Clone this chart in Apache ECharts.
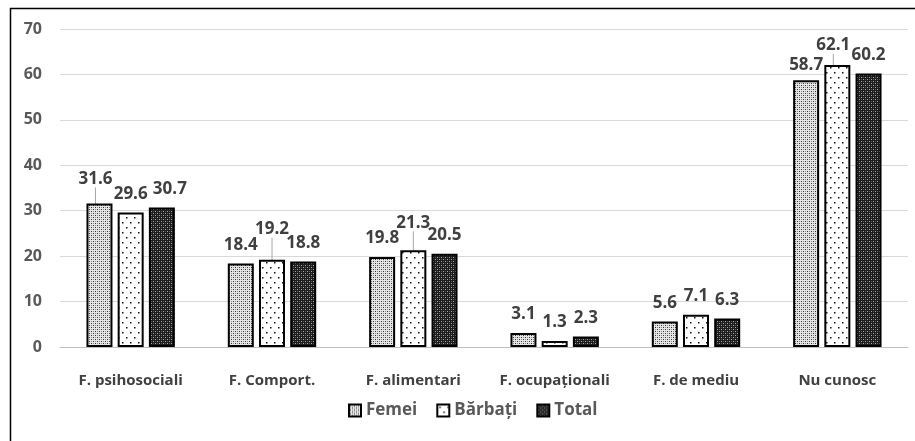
<!DOCTYPE html>
<html>
<head>
<meta charset="utf-8">
<script src="https://cdn.jsdelivr.net/npm/echarts@6/dist/echarts.min.js"></script>
<style>
html,body{margin:0;padding:0;background:#fff;}
#chart{width:915px;height:441px;}
</style>
</head>
<body>
<div id="chart"></div>
<script>
var categories = ['F. psihosociali', 'F. Comport.', 'F. alimentari', 'F. ocupaționali', 'F. de mediu', 'Nu cunosc'];
var femei = [31.6, 18.4, 19.8, 3.1, 5.6, 58.7];
var barbati = [29.6, 19.2, 21.3, 1.3, 7.1, 62.1];
var total = [30.7, 18.8, 20.5, 2.3, 6.3, 60.2];
var seriesNames = ['Femei', 'Bărbați', 'Total'];
var yTicks = [0, 10, 20, 30, 40, 50, 60, 70];

function makePattern(w, h, bg, dots) {
  var c = document.createElement('canvas');
  c.width = w; c.height = h;
  var ctx = c.getContext('2d');
  ctx.fillStyle = bg; ctx.fillRect(0, 0, w, h);
  dots.forEach(function (d) {
    ctx.fillStyle = d[2];
    ctx.fillRect(d[0], d[1], d[3] || 1, d[3] || 1);
  });
  return { image: c, repeat: 'repeat' };
}
var patFemei = makePattern(4, 4, '#e6e6e6', [[1,1,'#333'],[3,3,'#333'],[1,3,'#8a8a8a'],[3,1,'#8a8a8a']]);
var patBarbati = makePattern(8, 10, '#ffffff', [[2,2,'#111',1.5],[6,7,'#111',1.5]]);
var patTotal = makePattern(4, 4, '#1c1c1c', [[1,1,'#a8a8a8'],[3,3,'#a8a8a8'],[1,3,'#5a5a5a'],[3,1,'#5a5a5a']]);
var patterns = [patFemei, patBarbati, patTotal];
var datas = [femei, barbati, total];

// label nudges (Excel-moved labels), with leader lines
var labelShift = { '0-0': [-4, -6], '2-0': [8, 0], '1-1': [0, -12], '1-2': [0, -9], '1-5': [-4, -1], '0-5': [0, 3] };
var withLine = { '0-0': 1, '1-1': 1, '1-2': 1, '1-5': 1 };

var chart = echarts.init(document.getElementById('chart'), null, { renderer: 'canvas' });
var font = 'Open Sans';
var series = seriesNames.map(function (name, i) {
  return {
    name: name,
    type: 'bar',
    data: datas[i].map(function (v, j) {
      return { value: v, labelLine: { show: !!withLine[i + '-' + j] } };
    }),
    barWidth: 26,
    barGap: '20%',
    itemStyle: { color: patterns[i], borderColor: '#000', borderWidth: 2 },
    label: {
      show: true, position: 'top', distance: 10,
      fontFamily: font, fontWeight: 'bold', fontSize: 17, color: '#404040'
    },
    labelLine: { show: false, lineStyle: { color: '#a6a6a6', width: 1 } },
    labelLayout: function (p) {
      var s = labelShift[p.seriesIndex + '-' + p.dataIndex];
      if (s) return { dx: s[0], dy: s[1] };
      return {};
    }
  };
});

chart.setOption({
  animation: false,
  backgroundColor: '#fff',
  graphic: [{
    type: 'rect', left: 8, top: 6, shape: { width: 1000, height: 1000 },
    style: { fill: 'none', stroke: '#000', lineWidth: 1.5 }, silent: true, z: -1
  }],
  grid: { left: 60, right: 7, top: 29, bottom: 94 },
  legend: {
    data: seriesNames,
    bottom: 17, left: 343,
    icon: 'rect', itemWidth: 12, itemHeight: 12, itemGap: 19,
    textStyle: { fontFamily: font, fontWeight: 'bold', fontSize: 17, color: '#595959' }
  },
  xAxis: {
    type: 'category', data: categories,
    axisTick: { show: false },
    axisLine: { lineStyle: { color: '#bfbfbf', width: 1 } },
    axisLabel: { margin: 26, fontFamily: font, fontWeight: 'bold', fontSize: 15, color: '#404040', interval: 0 }
  },
  yAxis: {
    type: 'value', min: 0, max: 70, interval: 10,
    axisLine: { show: false }, axisTick: { show: false },
    splitLine: { lineStyle: { color: '#d9d9d9', width: 1 } },
    axisLabel: { margin: 18, fontFamily: font, fontWeight: 'bold', fontSize: 16, color: '#595959',
      formatter: function (v) { return yTicks.indexOf(v) >= 0 ? String(v) : ''; } }
  },
  series: series
});
</script>
</body>
</html>
